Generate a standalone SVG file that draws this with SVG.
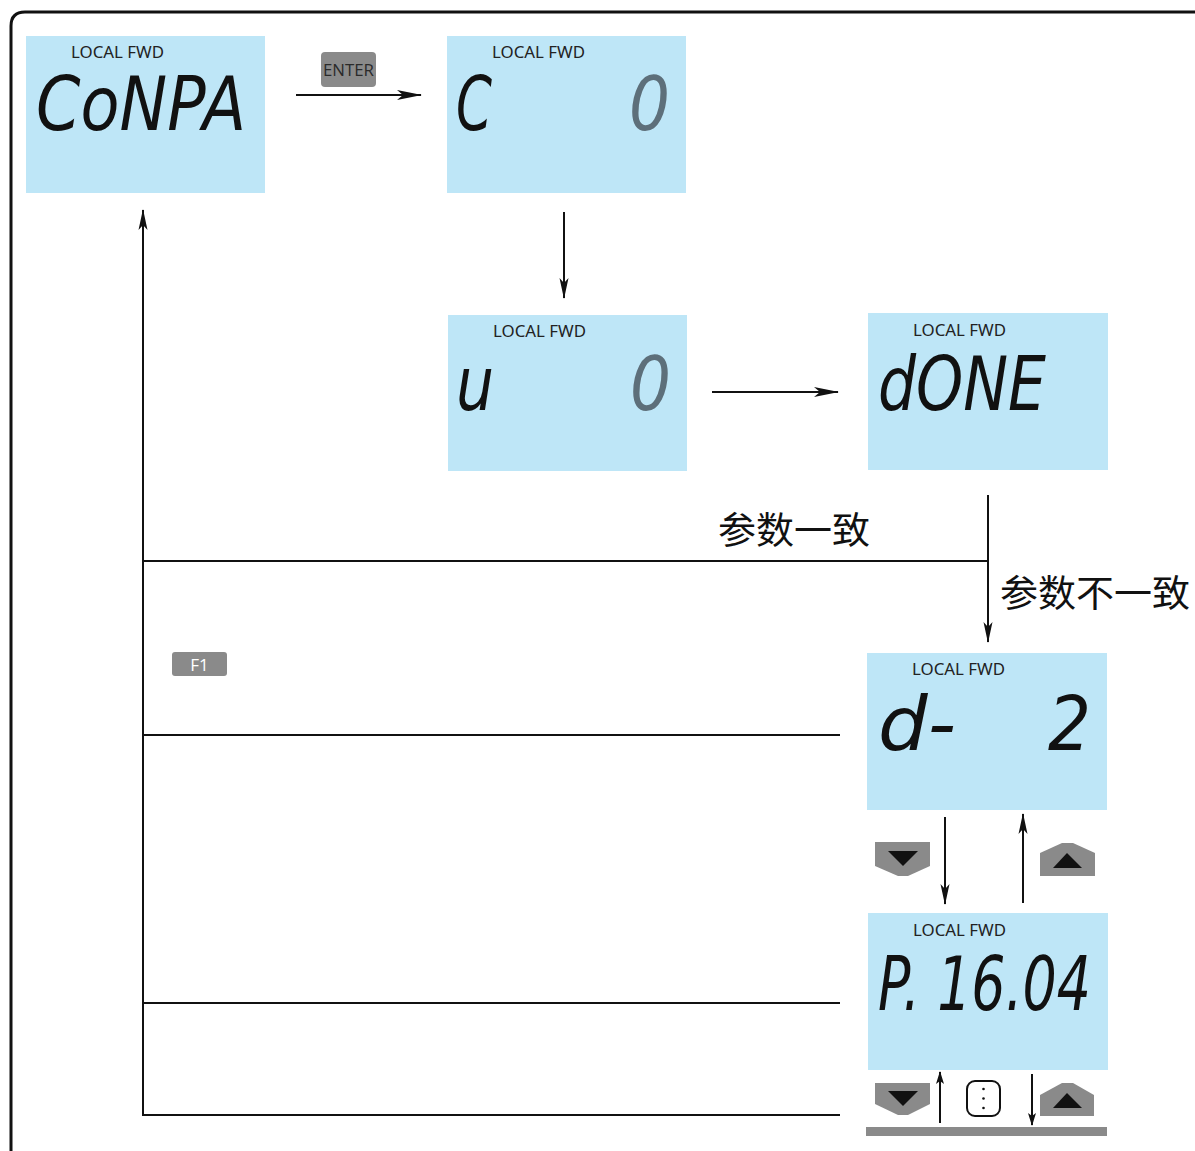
<svg xmlns="http://www.w3.org/2000/svg" width="1195" height="1151" viewBox="0 0 1195 1151">
<defs>
<style>
.lcd{fill:#bee6f7}
.hdr{font-family:"Noto Sans","Open Sans",sans-serif;font-size:16px;fill:#222}
.seg{font-family:"DejaVu Sans",sans-serif;font-style:oblique;font-size:74px;fill:#111}
.dim{fill:#5d6f7a}
.ln{stroke:#111;stroke-width:2;fill:none}
.cn{font-family:"Noto Sans CJK SC",sans-serif;font-size:37px;fill:#111}
.btn{fill:#8a8a8a}
</style>
<marker id="ah" markerWidth="26" markerHeight="12" refX="24" refY="6" orient="auto" markerUnits="userSpaceOnUse">
<path d="M0,1 L25,6 L0,11 L6,6 z" fill="#111"/>
</marker>
<marker id="ahm" markerWidth="22" markerHeight="12" refX="20" refY="6" orient="auto" markerUnits="userSpaceOnUse">
<path d="M0,1.5 L21,6 L0,10.5 L5,6 z" fill="#111"/>
</marker>
<marker id="ahs" markerWidth="14" markerHeight="10" refX="12" refY="5" orient="auto" markerUnits="userSpaceOnUse">
<path d="M0,1 L13,5 L0,9 L3,5 z" fill="#111"/>
</marker>
</defs>
<rect width="1195" height="1151" fill="#fff"/>
<path d="M11,1151 V26 Q11,12 25,12 H1195" fill="none" stroke="#111" stroke-width="3"/>

<g id="connectors">
<line class="ln" x1="296" y1="95" x2="421" y2="95" marker-end="url(#ah)"/>
<line class="ln" x1="564" y1="212" x2="564" y2="298" marker-end="url(#ahm)"/>
<line class="ln" x1="712" y1="392" x2="838" y2="392" marker-end="url(#ah)"/>
<line class="ln" x1="988" y1="495" x2="988" y2="642" marker-end="url(#ahm)"/>
<line class="ln" x1="988" y1="561" x2="143" y2="561"/>
<line class="ln" x1="840" y1="735" x2="143" y2="735"/>
<line class="ln" x1="840" y1="1003" x2="143" y2="1003"/>
<polyline class="ln" points="840,1115 143,1115 143,210" marker-end="url(#ahm)"/>
<line class="ln" x1="945" y1="817" x2="945" y2="904" marker-end="url(#ahm)"/>
<line class="ln" x1="1023" y1="903" x2="1023" y2="814" marker-end="url(#ahm)"/>
<line class="ln" x1="940" y1="1123" x2="940" y2="1072" marker-end="url(#ahs)"/>
<line class="ln" x1="1032" y1="1074" x2="1032" y2="1125" marker-end="url(#ahs)"/>
</g>

<g id="n-compa">
<rect class="lcd" x="26" y="36" width="239" height="157"/>
<text class="hdr" x="71" y="58" textLength="93" lengthAdjust="spacingAndGlyphs">LOCAL FWD</text>
<text class="seg" x="36" y="130" textLength="210" lengthAdjust="spacingAndGlyphs">CoNPA</text>
</g>

<g id="btn-enter">
<rect class="btn" x="321" y="52" width="55" height="35" rx="4"/>
<text x="348.5" y="76" text-anchor="middle" font-family="'Open Sans','Noto Sans',sans-serif" font-size="17" fill="#2a2a2a" textLength="51" lengthAdjust="spacingAndGlyphs">ENTER</text>
</g>

<g id="n-c0">
<rect class="lcd" x="447" y="36" width="239" height="157"/>
<text class="hdr" x="492" y="58" textLength="93" lengthAdjust="spacingAndGlyphs">LOCAL FWD</text>
<text class="seg" x="456" y="130" textLength="36" lengthAdjust="spacingAndGlyphs">C</text>
<text class="seg dim" x="629" y="130" textLength="41" lengthAdjust="spacingAndGlyphs">0</text>
</g>

<g id="n-u0">
<rect class="lcd" x="448" y="315" width="239" height="156"/>
<text class="hdr" x="493" y="337" textLength="93" lengthAdjust="spacingAndGlyphs">LOCAL FWD</text>
<text class="seg" x="456" y="410" textLength="38" lengthAdjust="spacingAndGlyphs">u</text>
<text class="seg dim" x="630" y="410" textLength="41" lengthAdjust="spacingAndGlyphs">0</text>
</g>

<g id="n-done">
<rect class="lcd" x="868" y="313" width="240" height="157"/>
<text class="hdr" x="913" y="336" textLength="93" lengthAdjust="spacingAndGlyphs">LOCAL FWD</text>
<text class="seg" x="878" y="410" textLength="168" lengthAdjust="spacingAndGlyphs">dONE</text>
</g>

<g id="lbl-same">
<text class="cn" x="718" y="544" textLength="152" lengthAdjust="spacingAndGlyphs">参数一致</text>
</g>
<g id="lbl-diff">
<text class="cn" x="1000" y="607" textLength="190" lengthAdjust="spacingAndGlyphs">参数不一致</text>
</g>

<g id="btn-f1">
<rect class="btn" x="172" y="652" width="55" height="24" rx="3"/>
<text x="199.5" y="670.5" text-anchor="middle" font-family="'Open Sans','Noto Sans',sans-serif" font-size="17" fill="#fff">F1</text>
</g>

<g id="n-d2">
<rect class="lcd" x="867" y="653" width="240" height="157"/>
<text class="hdr" x="912" y="675" textLength="93" lengthAdjust="spacingAndGlyphs">LOCAL FWD</text>
<text class="seg" x="878" y="750" textLength="78" lengthAdjust="spacingAndGlyphs">d-</text>
<text class="seg" x="1048" y="750" textLength="43" lengthAdjust="spacingAndGlyphs">2</text>
</g>

<g id="btn-down-1">
<polygon class="btn" points="875,842 930,842 930,866 908,876 898,876 875,866"/>
<polygon points="888,851 918,851 903,866" fill="#111"/>
</g>
<g id="btn-up-1">
<polygon class="btn" points="1040,876 1040,853 1062,843 1073,843 1095,853 1095,876"/>
<polygon points="1053,868 1082,868 1067,853" fill="#111"/>
</g>

<g id="n-p1604">
<rect class="lcd" x="868" y="913" width="240" height="157"/>
<text class="hdr" x="913" y="936" textLength="93" lengthAdjust="spacingAndGlyphs">LOCAL FWD</text>
<text class="seg" x="878" y="1010" textLength="213" lengthAdjust="spacingAndGlyphs">P. 16.04</text>
</g>

<g id="btn-down-2">
<polygon class="btn" points="875,1083 930,1083 930,1104 908,1115 898,1115 875,1104"/>
<polygon points="888,1091 918,1091 903,1106" fill="#111"/>
</g>
<g id="btn-dots">
<rect x="967" y="1081" width="33" height="35" rx="8" fill="#fff" stroke="#111" stroke-width="2"/>
<circle cx="983.5" cy="1089" r="1.3" fill="#111"/>
<circle cx="983.5" cy="1098.5" r="1.3" fill="#111"/>
<circle cx="983.5" cy="1108" r="1.3" fill="#111"/>
</g>
<g id="btn-up-2">
<polygon class="btn" points="1040,1116 1040,1095 1062,1083 1073,1083 1094,1095 1094,1116"/>
<polygon points="1053,1108 1082,1108 1067,1093" fill="#111"/>
</g>
<rect id="bar" x="866" y="1127" width="241" height="9" fill="#8a8a8a"/>
</svg>
